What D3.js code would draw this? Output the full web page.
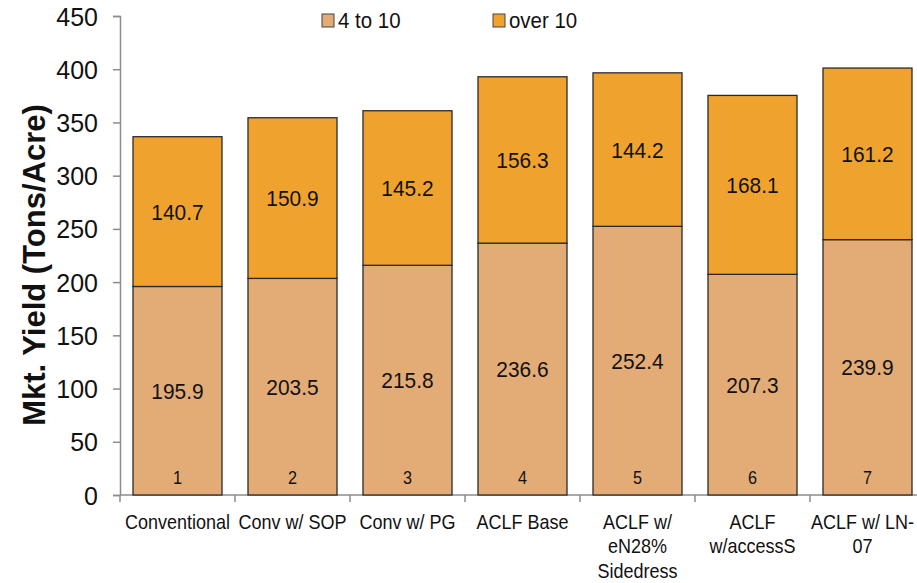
<!DOCTYPE html>
<html>
<head>
<meta charset="utf-8">
<script src="https://cdn.jsdelivr.net/npm/d3@7"></script>
<style>
  html, body { margin: 0; padding: 0; background: #fff; }
  svg { display: block; }
</style>
</head>
<body>
<svg id="chart" width="917" height="583"></svg>
<script>
// Treatments and marketable yield split by size class
const categories = [
  ["Conventional"],
  ["Conv w/ SOP"],
  ["Conv w/ PG"],
  ["ACLF Base"],
  ["ACLF w/", "eN28%", "Sidedress"],
  ["ACLF", "w/accessS"],
  ["ACLF w/ LN-", "07"]
];
const barNumbers = ["1", "2", "3", "4", "5", "6", "7"];
const size4to10 = [195.9, 203.5, 215.8, 236.6, 252.4, 207.3, 239.9];
const sizeOver10 = [140.7, 150.9, 145.2, 156.3, 144.2, 168.1, 161.2];
const seriesNames = ["4 to 10", "over 10"];
const yTicks = [0, 50, 100, 150, 200, 250, 300, 350, 400, 450];

const colors = ["#E3AB76", "#F0A22F"];
const sans = "'Liberation Sans', Arial, sans-serif";
const W = 917;

const svg = d3.select("#chart");
const plot = { left: 120, right: 925, top: 16, bottom: 495 };

const x = d3.scaleBand()
  .domain(d3.range(categories.length))
  .range([plot.left, plot.right])
  .paddingInner(0.226)
  .paddingOuter(0.113);

const y = d3.scaleLinear().domain([0, 450]).range([plot.bottom, plot.top]);

const rows = categories.map((c, i) => ({ i, a: size4to10[i], b: sizeOver10[i] }));
const stacked = d3.stack().keys(["a", "b"])(rows);

// y axis
const yAxis = svg.append("g")
  .attr("transform", `translate(${plot.left},0)`)
  .call(d3.axisLeft(y).tickValues(yTicks).tickSize(7).tickPadding(15));
yAxis.select(".domain").attr("stroke", "#8c8c8c").attr("stroke-width", 1.5);
yAxis.selectAll(".tick line").attr("stroke", "#8c8c8c").attr("stroke-width", 1.5);
yAxis.selectAll(".tick text")
  .attr("font-family", sans)
  .attr("font-size", 25).attr("fill", "#111")
  .attr("dy", "0.36em");

// x axis baseline with ticks at band boundaries
const step = x.step();
const boundaries = d3.range(categories.length + 1).map(k => plot.left + k * step);
svg.append("line")
  .attr("x1", plot.left).attr("x2", plot.right)
  .attr("y1", y(0)).attr("y2", y(0))
  .attr("stroke", "#8c8c8c").attr("stroke-width", 1.5);
svg.selectAll(".xtick").data(boundaries).enter().append("line")
  .attr("x1", d => d).attr("x2", d => d)
  .attr("y1", y(0)).attr("y2", y(0) + 7)
  .attr("stroke", "#8c8c8c").attr("stroke-width", 1.5);

// stacked bars
stacked.forEach((layer, li) => {
  svg.append("g").selectAll("rect").data(layer).enter().append("rect")
    .attr("x", d => x(d.data.i))
    .attr("width", x.bandwidth())
    .attr("y", d => y(d[1]))
    .attr("height", d => y(d[0]) - y(d[1]))
    .attr("fill", colors[li])
    .attr("stroke", "#2b2b2b")
    .attr("stroke-width", 1.3);
});

// value labels (slightly condensed)
stacked.forEach((layer) => {
  svg.append("g").selectAll("text").data(layer).enter().append("text")
    .attr("transform", d =>
      `translate(${x(d.data.i) + x.bandwidth() / 2},${(y(d[0]) + y(d[1])) / 2 + 8}) scale(0.95,1)`)
    .attr("text-anchor", "middle")
    .attr("font-family", sans)
    .attr("font-size", 22).attr("fill", "#111")
    .text(d => (d[1] - d[0]).toFixed(1));
});

// bar numbers at the base
svg.append("g").selectAll("text").data(barNumbers).enter().append("text")
  .attr("transform", (d, i) => `translate(${x(i) + x.bandwidth() / 2},${y(0) - 11}) scale(0.9,1)`)
  .attr("text-anchor", "middle")
  .attr("font-family", sans)
  .attr("font-size", 18).attr("fill", "#111")
  .text(d => d);

// category labels (condensed); keep the last one inside the page
const sx = 0.9;
const catG = svg.append("g").selectAll("text").data(categories).enter().append("text")
  .attr("text-anchor", "middle")
  .attr("font-family", sans)
  .attr("font-size", 20).attr("fill", "#111");
catG.selectAll("tspan").data(d => d).enter().append("tspan")
  .attr("x", 0)
  .attr("dy", (d, j) => j === 0 ? 0 : 24.5)
  .text(d => d);
catG.attr("transform", function (d, i) {
  let cx = x(i) + x.bandwidth() / 2;
  const half = this.getBBox().width * sx / 2;
  if (cx + half > W - 3) cx = W - 3 - half;
  return `translate(${cx},529) scale(${sx},1)`;
});

// y title
svg.append("text")
  .attr("transform", `translate(45,265) rotate(-90)`)
  .attr("text-anchor", "middle")
  .attr("font-family", sans)
  .attr("font-weight", "bold")
  .attr("font-size", 31).attr("fill", "#111")
  .text("Mkt. Yield (Tons/Acre)");

// legend
const legendX = [322, 493];
const legend = svg.append("g").selectAll("g").data(seriesNames).enter().append("g")
  .attr("transform", (d, i) => `translate(${legendX[i]},14)`);
legend.append("rect")
  .attr("width", 12).attr("height", 13)
  .attr("fill", (d, i) => colors[i])
  .attr("stroke", "#444").attr("stroke-width", 1);
legend.append("text")
  .attr("transform", "translate(16,14) scale(0.93,1)")
  .attr("font-family", sans)
  .attr("font-size", 22).attr("fill", "#111")
  .text(d => d);
</script>
</body>
</html>
